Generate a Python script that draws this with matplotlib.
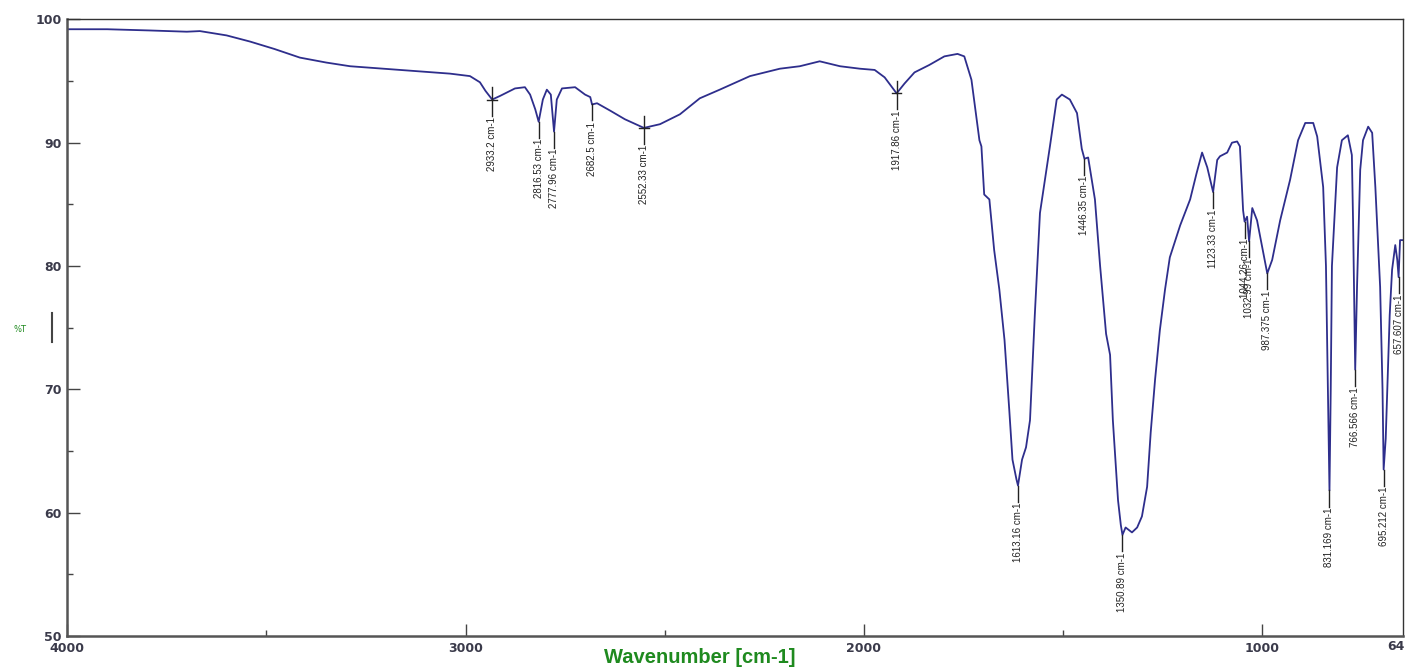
import matplotlib
matplotlib.use("Agg")
import matplotlib.pyplot as plt
from matplotlib.ticker import MultipleLocator

# IR spectrum, wavenumber (cm-1) vs transmittance (%T)
wavenumber = [
    4000, 3900, 3792, 3700, 3667, 3600, 3541, 3480, 3416, 3350, 3290, 3165,
    3039, 2989, 2964, 2950, 2933.2, 2913, 2876, 2851, 2838, 2825, 2816.53,
    2806, 2796, 2786, 2777.96, 2771, 2758, 2725, 2700, 2687, 2682.5, 2670,
    2637, 2600, 2552.33, 2512, 2462, 2412, 2362, 2286, 2211, 2161, 2111,
    2060, 2010, 1973, 1948, 1917.86, 1898, 1873, 1836, 1798, 1765, 1748,
    1730, 1710, 1705, 1698, 1685, 1673, 1660, 1647, 1635, 1627, 1617,
    1613.16, 1603, 1593, 1583, 1571, 1558, 1533, 1516, 1503, 1483, 1465,
    1453, 1446.35, 1437, 1420, 1407, 1392, 1382, 1375, 1362, 1355, 1350.89,
    1343, 1327, 1314, 1302, 1289, 1280, 1269, 1257, 1244, 1232, 1206, 1181,
    1165, 1151, 1138, 1123.33, 1113, 1106, 1088, 1076, 1063, 1056, 1048,
    1044.26, 1038, 1032.99, 1025, 1013, 1000, 987.375, 975, 955, 930, 910,
    892, 872, 862, 847, 840, 835, 831.169, 828, 825, 812, 800, 785, 775,
    772, 766.566, 762, 754, 747, 734, 724, 716, 704, 698, 695.212, 690, 686,
    680, 674, 666, 661, 657.607, 654, 647.5,
]
transmittance = [
    99.2, 99.2, 99.1, 99.0, 99.05, 98.7, 98.2, 97.6, 96.9, 96.5, 96.2, 95.9,
    95.6, 95.4, 94.9, 94.2, 93.5, 93.8, 94.4, 94.5, 93.9, 92.7, 91.7,
    93.5, 94.3, 93.9, 90.9, 93.5, 94.4, 94.5, 93.9, 93.7, 93.1, 93.2,
    92.6, 91.9, 91.2, 91.5, 92.3, 93.6, 94.3, 95.4, 96.0, 96.2, 96.6,
    96.2, 96.0, 95.9, 95.3, 94.0, 94.8, 95.7, 96.3, 97.0, 97.2, 97.0,
    95.1, 90.2, 89.7, 85.8, 85.4, 81.3, 78.1, 74.0, 68.3, 64.3, 62.7,
    62.2, 64.3, 65.3, 67.5, 76.0, 84.3, 89.7, 93.5, 93.9, 93.5, 92.4,
    89.5, 88.7, 88.8, 85.4, 80.0, 74.5, 72.8, 67.5, 61.0, 59.0, 58.2,
    58.8, 58.4, 58.8, 59.7, 62.1, 66.5, 70.8, 74.8, 78.1, 80.7, 83.3, 85.4,
    87.5, 89.2, 88.0, 86.0, 88.6, 88.9, 89.2, 90.0, 90.1, 89.7, 84.5,
    83.6, 84.0, 82.0, 84.7, 83.7, 81.5, 79.4, 80.5, 83.7, 87.0, 90.2,
    91.6, 91.6, 90.5, 86.4, 80.0, 70.0, 61.8, 70.0, 80.0, 88.0, 90.2, 90.6, 89.0,
    83.7, 71.6, 78.3, 87.8, 90.2, 91.3, 90.8, 86.4, 78.3, 70.0, 63.5, 66.0, 70.0,
    76.0, 79.7, 81.7, 80.5, 79.1, 82.1, 82.1,
]

# picked peaks
peak_wn = [2933.2, 2816.53, 2777.96, 2682.5, 2552.33, 1917.86, 1613.16,
           1446.35, 1350.89, 1123.33, 1044.26, 1032.99, 987.375, 831.169,
           766.566, 695.212, 657.607]
peak_t = [93.5, 91.7, 90.9, 93.1, 91.2, 94.0, 62.2, 88.7, 58.2, 86.0,
          83.6, 82.0, 79.4, 61.8, 71.6, 63.5, 79.1]
broad_peaks = [2933.2, 2552.33, 1917.86]

x_ticks = [4000, 3000, 2000, 1000]
y_ticks = [50, 60, 70, 80, 90, 100]

line_color = "#2e2e8c"
tick_color = "#3a3a4a"
green = "#1f8a1f"
narrow = ["Liberation Sans Narrow", "Liberation Sans"]

fig = plt.figure(figsize=(14.07, 6.68), dpi=100)
ax = fig.add_axes([0.0478, 0.0479, 0.9491, 0.9231])

ax.plot(wavenumber, transmittance, color=line_color, lw=1.3)

# peak markers and labels
drop = 1.3
for w, t in zip(peak_wn, peak_t):
    if w in broad_peaks:
        ax.plot([w, w], [t + 1.0, t - drop], color="#222222", lw=1)
        ax.plot([w - 12, w + 12], [t, t], color="#222222", lw=1)
    else:
        ax.plot([w, w], [t, t - drop], color="#222222", lw=1)
    ax.text(w, t - drop - 0.1, f"{w} cm-1", rotation=90, ha="center", va="top",
            fontsize=7, color="#222222", family=narrow)

ax.set_xlim(4000, 647.5)
ax.set_ylim(50, 100)

ax.set_xticks(x_ticks)
ax.set_xticklabels([str(v) for v in x_ticks])
ax.set_yticks(y_ticks)
ax.set_yticklabels([str(v) for v in y_ticks])
ax.xaxis.set_minor_locator(MultipleLocator(500))
ax.yaxis.set_minor_locator(MultipleLocator(5))

ax.tick_params(axis="both", which="major", direction="in", length=9,
               width=1, color="#444444", labelcolor=tick_color, labelsize=9, pad=4)
ax.tick_params(axis="both", which="minor", direction="in", length=4,
               width=1, color="#444444")
for lab in ax.get_xticklabels() + ax.get_yticklabels():
    lab.set_fontweight("bold")

for side in ["left", "bottom"]:
    ax.spines[side].set_color("#555555")
    ax.spines[side].set_linewidth(1.8)
for side in ["top", "right"]:
    ax.spines[side].set_color("#333333")
    ax.spines[side].set_linewidth(1.0)

# truncated label at the right end of the axis
fig.text(1387 / 1407, 1 - 647 / 668, "64", ha="left", va="center",
         fontsize=9, fontweight="bold", color=tick_color)

ax.set_xlabel("Wavenumber [cm-1]", color=green, fontsize=14.5, fontweight="bold",
              family=narrow)
ax.xaxis.set_label_coords((700 - 67.3) / (1402.7 - 67.3), -0.02)

fig.text(20 / 1407, 1 - 329 / 668, "%T", color=green, fontsize=6,
         ha="center", va="center")
fig.add_artist(plt.Line2D([52 / 1407, 52 / 1407], [1 - 313 / 668, 1 - 342 / 668],
                          color="#444444", lw=1.5))

fig.savefig("out.png", dpi=100)
